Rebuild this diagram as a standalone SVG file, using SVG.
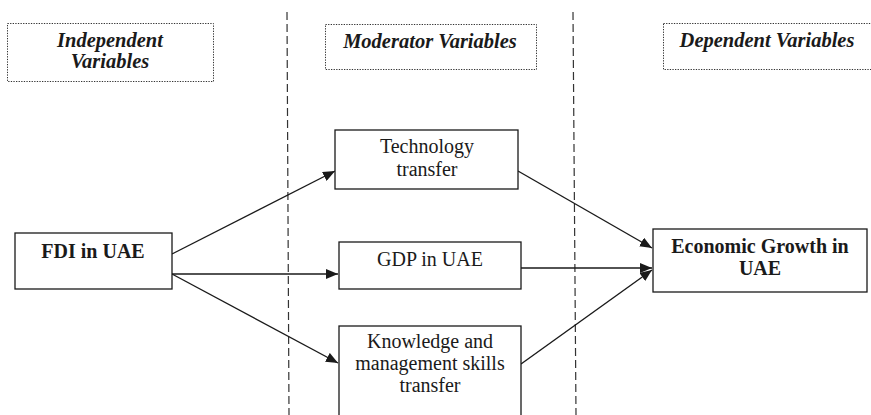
<svg xmlns="http://www.w3.org/2000/svg" width="871" height="415" viewBox="0 0 871 415">
<defs>
<marker id="ah" viewBox="0 0 12 10" refX="12" refY="5" markerWidth="12" markerHeight="10" markerUnits="userSpaceOnUse" orient="auto">
<path d="M0,0 L12,5 L0,10 Z" fill="#1a1a1a"/>
</marker>
</defs>
<style>
.hdr{fill:#fff;stroke:#333;stroke-width:1;stroke-dasharray:1.3 1.3}
.box{fill:#fff;stroke:#1a1a1a;stroke-width:1.3}
.div{stroke:#333;stroke-width:1.2;stroke-dasharray:8 4;fill:none}
.con{stroke:#1a1a1a;stroke-width:1.4;fill:none;marker-end:url(#ah)}
text{font-family:'Liberation Serif','Times New Roman','DejaVu Serif',serif;fill:#1a1a1a;text-anchor:middle}
.ht{font-size:20.5px;font-weight:bold;font-style:italic}
.t{font-size:20px}
.tb{font-size:20px;font-weight:bold}
</style>
<rect width="871" height="415" fill="#fff"/>
<g id="dividers">
<line class="div" x1="287" y1="12" x2="289" y2="415"/>
<line class="div" x1="573" y1="12" x2="576" y2="415"/>
</g>
<g id="hdr-independent">
<rect class="hdr" x="7.5" y="23.5" width="206" height="58"/>
<text class="ht" x="110" y="47">Independent</text>
<text class="ht" x="110" y="68">Variables</text>
</g>
<g id="hdr-moderator">
<rect class="hdr" x="325.5" y="24.5" width="211" height="45"/>
<text class="ht" x="430" y="48">Moderator Variables</text>
</g>
<g id="hdr-dependent">
<rect class="hdr" x="663.5" y="23.5" width="220" height="46"/>
<text class="ht" x="767" y="47">Dependent Variables</text>
</g>
<g id="connectors">
<line class="con" x1="172" y1="254" x2="335" y2="171"/>
<line class="con" x1="172" y1="274" x2="338" y2="274"/>
<line class="con" x1="172" y1="274" x2="338" y2="363"/>
<line class="con" x1="518" y1="171" x2="652" y2="248"/>
<line class="con" x1="521" y1="268" x2="652" y2="268"/>
<line class="con" x1="521" y1="364" x2="652" y2="270"/>
</g>
<g id="fdi">
<rect class="box" x="15" y="233" width="157" height="56"/>
<text class="tb" x="93" y="258">FDI in UAE</text>
</g>
<g id="tech">
<rect class="box" x="335" y="130" width="183" height="59"/>
<text class="t" x="427" y="153">Technology</text>
<text class="t" x="427" y="176">transfer</text>
</g>
<g id="gdp">
<rect class="box" x="339" y="242" width="182" height="47"/>
<text class="t" x="430" y="266">GDP in UAE</text>
</g>
<g id="knowledge">
<rect class="box" x="339" y="326" width="182" height="100"/>
<text class="t" x="430" y="348">Knowledge and</text>
<text class="t" x="430" y="370">management skills</text>
<text class="t" x="430" y="392">transfer</text>
</g>
<g id="econ">
<rect class="box" x="653" y="229" width="214" height="63"/>
<text class="tb" x="760" y="253">Economic Growth in</text>
<text class="tb" x="760" y="275">UAE</text>
</g>
</svg>
